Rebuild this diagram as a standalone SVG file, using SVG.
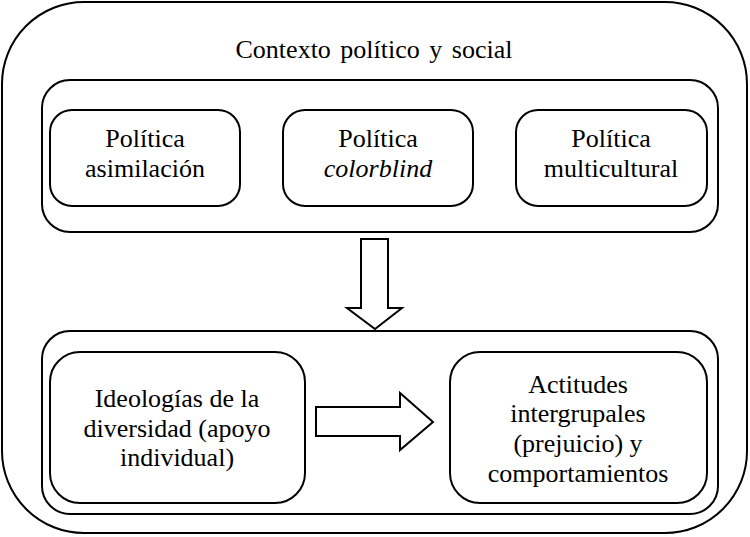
<svg xmlns="http://www.w3.org/2000/svg" width="750" height="537" viewBox="0 0 750 537">
<style>
.box{fill:#fff;stroke:#000;stroke-width:2}
.arr{fill:#fff;stroke:#000;stroke-width:2;stroke-linejoin:miter}
text{font-family:"Liberation Serif","Times New Roman",serif;font-size:26px;fill:#000;text-anchor:middle}
.title{word-spacing:3px}
</style>
<rect width="750" height="537" fill="#fff"/>
<g id="contexto">
<rect class="box" x="2" y="2" width="745" height="531" rx="82" ry="82"/>
<text class="title" x="374" y="58">Contexto político y social</text>
</g>
<g id="panel-politicas">
<rect class="box" x="42" y="80" width="676" height="152" rx="28" ry="28"/>
</g>
<g id="politica-asimilacion">
<rect class="box" x="50" y="110" width="190" height="96" rx="22" ry="22"/>
<text x="145" y="147">Política</text>
<text x="145" y="177">asimilación</text>
</g>
<g id="politica-colorblind">
<rect class="box" x="283" y="110" width="190" height="96" rx="22" ry="22"/>
<text x="378" y="147">Política</text>
<text x="378" y="177" font-style="italic">colorblind</text>
</g>
<g id="politica-multicultural">
<rect class="box" x="516" y="110" width="191" height="96" rx="22" ry="22"/>
<text x="611" y="147">Política</text>
<text x="611" y="177">multicultural</text>
</g>
<g id="panel-individual">
<rect class="box" x="42" y="331" width="676" height="183" rx="28" ry="28"/>
</g>
<g id="ideologias">
<rect class="box" x="50" y="352" width="255" height="151" rx="30" ry="30"/>
<text x="177" y="407">Ideologías de la</text>
<text x="177" y="437">diversidad (apoyo</text>
<text x="177" y="466">individual)</text>
</g>
<g id="actitudes">
<rect class="box" x="450" y="352" width="257" height="151" rx="30" ry="30"/>
<text x="578" y="393">Actitudes</text>
<text x="578" y="422">intergrupales</text>
<text x="578" y="452">(prejuicio) y</text>
<text x="578" y="482">comportamientos</text>
</g>
<g id="connectors">
<polygon class="arr" points="361,239 388,239 388,308 402,308 375,329 347,308 361,308"/>
<polygon class="arr" points="316,407 400,407 400,393 433,422 400,450 400,436 316,436"/>
</g>
</svg>
